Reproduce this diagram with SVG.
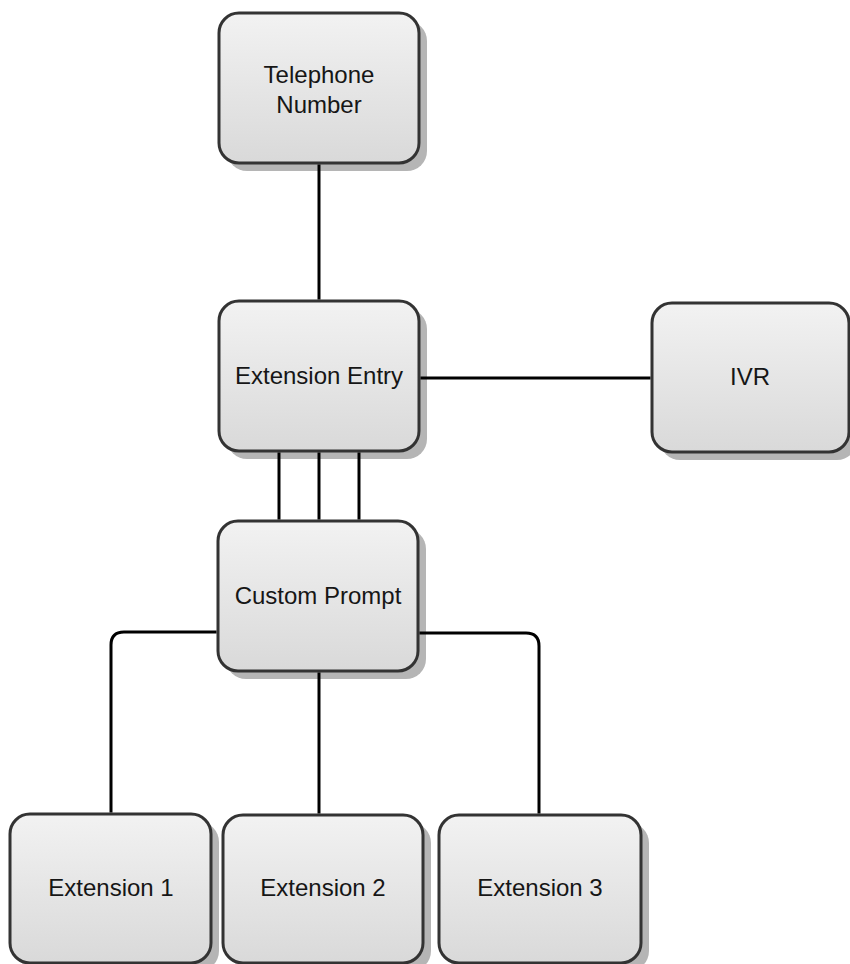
<svg xmlns="http://www.w3.org/2000/svg" width="850" height="964" viewBox="0 0 850 964">
  <defs>
    <linearGradient id="nodeFill" x1="0" y1="0" x2="0" y2="1">
      <stop offset="0" stop-color="#f2f2f2"/>
      <stop offset="1" stop-color="#d9d9d9"/>
    </linearGradient>
    <style>
      .shadow { fill: #b5b5b5; }
      .box { fill: url(#nodeFill); stroke: #333333; stroke-width: 3; }
      .label { font-family: "Liberation Sans", Arial, sans-serif; font-size: 24px; fill: #161616; text-anchor: middle; }
      .conn { fill: none; stroke: #000000; stroke-width: 3; }
    </style>
  </defs>
  <rect width="850" height="964" fill="#ffffff"/>

  <g id="telephone-number">
    <rect class="shadow" x="227" y="21" width="200" height="150" rx="20"/>
    <rect class="box" x="219" y="13" width="200" height="150" rx="20"/>
    <text class="label" x="319" y="83">Telephone</text>
    <text class="label" x="319" y="113">Number</text>
  </g>

  <g id="extension-entry">
    <rect class="shadow" x="227" y="309" width="200" height="150" rx="20"/>
    <rect class="box" x="219" y="301" width="200" height="150" rx="20"/>
    <text class="label" x="319" y="384">Extension Entry</text>
  </g>

  <g id="ivr">
    <rect class="shadow" x="660" y="311" width="197" height="149" rx="20"/>
    <rect class="box" x="652" y="303" width="197" height="149" rx="20"/>
    <text class="label" x="750" y="385">IVR</text>
  </g>

  <g id="custom-prompt">
    <rect class="shadow" x="226" y="529" width="200" height="150" rx="20"/>
    <rect class="box" x="218" y="521" width="200" height="150" rx="20"/>
    <text class="label" x="318" y="604">Custom Prompt</text>
  </g>

  <g id="extension-1">
    <rect class="shadow" x="18" y="822" width="201" height="149" rx="20"/>
    <rect class="box" x="10" y="814" width="201" height="149" rx="20"/>
    <text class="label" x="111" y="896">Extension 1</text>
  </g>

  <g id="extension-2">
    <rect class="shadow" x="231" y="823" width="200" height="148" rx="20"/>
    <rect class="box" x="223" y="815" width="200" height="148" rx="20"/>
    <text class="label" x="323" y="896">Extension 2</text>
  </g>

  <g id="extension-3">
    <rect class="shadow" x="447" y="823" width="202" height="148" rx="20"/>
    <rect class="box" x="439" y="815" width="202" height="148" rx="20"/>
    <text class="label" x="540" y="896">Extension 3</text>
  </g>

  <g id="connectors">
    <path class="conn" d="M319,164.5 V299.5"/>
    <path class="conn" d="M420.5,378 H650.5"/>
    <path class="conn" d="M279,452.5 V519.5"/>
    <path class="conn" d="M319,452.5 V519.5"/>
    <path class="conn" d="M359,452.5 V519.5"/>
    <path class="conn" d="M216.5,632 H124 Q111,632 111,645 V812.5"/>
    <path class="conn" d="M319,672.5 V813.5"/>
    <path class="conn" d="M419.5,633 H526 Q539,633 539,646 V813.5"/>
  </g>
</svg>
